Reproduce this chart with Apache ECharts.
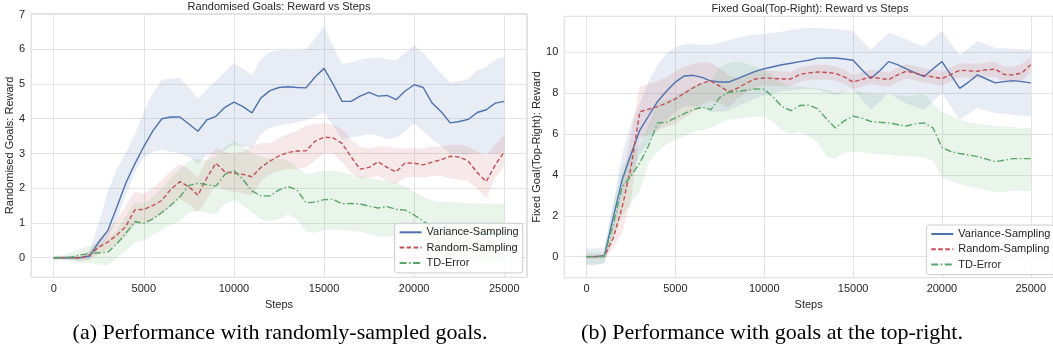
<!DOCTYPE html>
<html>
<head>
<meta charset="utf-8">
<script src="https://cdn.jsdelivr.net/npm/echarts@6/dist/echarts.min.js"></script>
<style>
html,body{margin:0;padding:0;background:#fff;}
#c{width:1053px;height:351px;}
</style>
</head>
<body>
<div id="c"></div>
<script>
// ---------------- data ----------------
const steps = [0,500,1000,1500,2000,2500,3000,3500,4000,4500,5000,5500,6000,6500,7000,7500,8000,8500,9000,9500,10000,10500,11000,11500,12000,12500,13000,13500,14000,14500,15000,15500,16000,16500,17000,17500,18000,18500,19000,19500,20000,20500,21000,21500,22000,22500,23000,23500,24000,24500,25000];

const seriesNames = ['Variance-Sampling', 'Random-Sampling', 'TD-Error'];

// (a) Randomised goals
const leftVarMean = [0,0,0,0,0.05,0.45,0.78,1.45,2.15,2.7,3.2,3.65,4.0,4.05,4.05,3.85,3.64,3.97,4.07,4.33,4.48,4.35,4.17,4.6,4.81,4.9,4.92,4.9,4.89,5.2,5.45,5.0,4.5,4.5,4.65,4.76,4.65,4.67,4.55,4.8,4.98,4.9,4.45,4.2,3.88,3.92,3.98,4.18,4.26,4.45,4.5];
const leftVarLow  = [-0.05,-0.05,-0.05,-0.05,-0.05,0.3,0.55,1.1,1.8,2.45,2.9,3.05,3.1,3.05,3.0,2.9,2.7,2.95,3.0,3.1,3.25,3.2,3.15,3.55,3.74,3.8,3.85,3.9,3.95,4.05,4.19,3.8,3.42,3.45,3.5,3.55,3.52,3.42,3.45,3.65,3.86,3.65,3.4,3.2,3.0,2.98,2.98,3.0,3.0,3.0,3.05];
const leftVarHigh = [0.05,0.05,0.05,0.05,0.2,1.0,1.9,2.55,3.0,3.55,4.2,4.75,5.12,5.15,5.18,4.9,4.58,4.85,5.1,5.35,5.6,5.45,5.26,5.72,5.92,5.97,5.98,5.97,6.0,6.3,6.66,6.1,5.58,5.62,5.7,5.75,5.77,5.72,5.68,5.9,6.11,5.9,5.6,5.3,5.05,5.08,5.15,5.4,5.5,5.7,5.8];

const leftRandMean = [0,0,0,0,0.08,0.3,0.45,0.65,0.9,1.38,1.39,1.5,1.65,1.97,2.19,2.04,1.8,2.3,2.72,2.47,2.43,2.4,2.33,2.6,2.78,2.93,3.03,3.07,3.08,3.35,3.47,3.45,3.29,2.9,2.55,2.6,2.76,2.6,2.47,2.73,2.72,2.67,2.75,2.82,2.92,2.9,2.78,2.45,2.19,2.67,3.05];
const leftRandLow  = [-0.05,-0.05,-0.05,-0.1,-0.05,0.1,0.25,0.4,0.6,0.95,1.0,1.1,1.25,1.5,1.7,1.55,1.3,1.7,2.1,1.95,1.9,1.85,1.8,2.2,2.4,2.5,2.55,2.55,2.6,2.8,3.0,3.0,2.75,2.45,2.3,2.3,2.35,2.2,2.12,2.3,2.33,2.3,2.35,2.35,2.28,2.25,2.2,2.0,1.7,2.3,2.65];
const leftRandHigh = [0.05,0.05,0.05,0.05,0.2,0.55,0.8,1.1,1.5,1.9,1.85,2.0,2.25,2.5,2.7,2.55,2.3,2.85,3.15,3.05,3.0,3.05,3.2,3.3,3.3,3.45,3.55,3.65,3.8,3.85,3.87,3.82,3.7,3.4,3.2,3.15,3.2,3.2,3.15,3.15,3.15,3.15,3.2,3.2,3.25,3.25,3.2,3.05,2.95,3.25,3.55];

const leftTdMean = [0,0,0.02,0.08,0.12,0.14,0.16,0.4,0.7,1.04,0.99,1.12,1.3,1.51,1.75,2.08,2.14,2.1,2.06,2.4,2.51,2.25,1.92,1.78,1.78,1.95,2.05,1.95,1.58,1.6,1.67,1.68,1.55,1.56,1.55,1.48,1.43,1.47,1.39,1.37,1.23,1.05,0.9,0.85,0.8,0.78,0.75,0.72,0.7,0.72,0.7];
const leftTdLow  = [-0.05,-0.05,-0.1,-0.15,-0.15,-0.2,-0.22,0.0,0.2,0.45,0.5,0.65,0.8,0.95,1.05,1.3,1.35,1.3,1.25,1.55,1.65,1.5,1.3,1.1,1.05,1.1,1.25,1.1,0.75,0.72,0.78,0.82,0.8,0.78,0.75,0.68,0.62,0.62,0.6,0.6,0.5,0.35,0.2,0.1,0.0,-0.02,-0.05,-0.1,-0.12,-0.12,-0.15];
const leftTdHigh = [0.05,0.08,0.15,0.25,0.35,0.4,0.55,0.8,1.2,1.6,1.55,1.75,2.0,2.3,2.55,2.8,2.85,2.8,2.9,3.2,3.35,3.2,3.0,2.9,2.85,2.85,2.8,2.6,2.4,2.45,2.5,2.5,2.45,2.4,2.35,2.3,2.25,2.2,2.15,2.05,1.9,1.75,1.65,1.6,1.6,1.58,1.57,1.56,1.56,1.55,1.55];

// (b) Fixed goal at the top-right
const rightVarMean = [0,0,0.05,1.9,3.75,5.0,6.2,6.9,7.6,8.1,8.55,8.85,8.88,8.78,8.6,8.55,8.55,8.72,8.9,9.07,9.2,9.3,9.4,9.47,9.55,9.62,9.72,9.73,9.73,9.68,9.62,9.15,8.72,9.1,9.55,9.4,9.2,9.0,8.82,9.2,9.55,8.9,8.24,8.55,8.9,8.7,8.51,8.57,8.62,8.57,8.51];
const rightVarLow  = [-0.4,-0.4,-0.35,1.2,2.9,3.9,5.0,5.6,6.2,6.7,7.1,7.35,7.35,7.3,7.1,7.1,7.15,7.35,7.55,7.75,7.9,8.0,8.1,8.15,8.18,8.18,8.18,8.05,7.9,8.05,8.18,7.7,7.2,7.6,8.02,7.75,7.5,7.35,7.2,7.6,8.02,7.35,6.71,7.0,7.28,7.15,7.04,7.0,6.95,6.9,6.87];
const rightVarHigh = [0.4,0.4,0.45,2.6,5.0,6.5,7.5,8.6,9.4,9.95,10.25,10.4,10.42,10.38,10.4,10.47,10.6,10.72,10.82,10.87,10.92,10.97,11.02,11.1,11.18,11.2,11.2,11.18,11.15,11.1,11.04,10.6,10.14,10.55,10.96,10.8,10.65,10.45,10.3,10.7,11.04,10.45,9.89,10.2,10.55,10.4,10.22,10.2,10.18,10.16,10.14];

const rightRandMean = [0,0,0.02,0.9,2.4,4.35,7.1,7.22,7.35,7.52,7.72,8.0,8.27,8.5,8.6,8.35,8.08,8.25,8.5,8.7,8.75,8.73,8.7,8.7,8.92,9.0,9.04,9.02,8.98,8.8,8.55,8.68,8.8,8.73,8.67,8.9,9.08,8.98,8.88,8.8,8.72,8.93,9.13,9.1,9.08,9.15,9.18,8.92,8.9,9.0,9.4];
const rightRandLow  = [-0.1,-0.1,-0.1,0.4,1.2,2.8,5.8,6.0,6.2,6.35,6.5,6.8,7.1,7.45,7.65,7.5,7.3,7.75,8.05,8.3,8.38,8.36,8.35,8.35,8.57,8.65,8.68,8.66,8.63,8.45,8.2,8.33,8.45,8.38,8.32,8.55,8.73,8.63,8.53,8.45,8.37,8.58,8.78,8.75,8.72,8.78,8.8,8.55,8.5,8.6,9.0];
const rightRandHigh = [0.1,0.1,0.1,1.5,3.6,6.0,8.35,8.45,8.6,8.8,9.05,9.3,9.45,9.52,9.5,9.2,8.85,8.75,8.95,9.1,9.12,9.1,9.05,9.05,9.27,9.35,9.4,9.38,9.33,9.15,8.9,9.03,9.15,9.08,9.02,9.25,9.43,9.33,9.23,9.15,9.07,9.28,9.48,9.45,9.45,9.52,9.55,9.3,9.3,9.45,9.8];

const rightTdMean = [0,0,0.02,1.6,3.4,3.95,4.6,5.45,6.55,6.58,6.8,7.0,7.2,7.32,7.2,7.8,8.05,8.1,8.15,8.21,8.2,7.82,7.35,7.15,7.4,7.42,7.25,6.75,6.3,6.65,6.88,6.78,6.62,6.58,6.55,6.47,6.4,6.5,6.55,6.3,5.35,5.15,5.05,4.98,4.9,4.78,4.65,4.72,4.8,4.8,4.8];
const rightTdLow  = [-0.4,-0.4,-0.3,0.9,2.0,2.6,3.2,4.6,5.15,5.5,5.7,5.9,6.1,6.2,6.3,6.55,6.7,6.75,6.8,6.85,6.85,6.6,6.2,6.0,6.1,5.9,5.6,4.9,4.8,5.1,5.15,5.1,5.05,5.0,5.0,4.95,4.9,4.9,4.85,4.7,3.9,3.7,3.55,3.45,3.35,3.25,3.15,3.18,3.22,3.22,3.22];
const rightTdHigh = [0.2,0.2,0.2,2.5,4.4,5.0,5.5,6.5,7.6,7.7,7.85,8.1,8.35,8.5,8.6,9.3,9.5,9.55,9.45,9.3,9.15,8.85,8.5,8.3,8.35,8.3,8.25,8.2,8.0,8.1,8.15,8.05,7.95,7.95,7.95,7.9,7.85,7.9,7.95,7.5,7.1,6.9,6.7,6.6,6.5,6.45,6.4,6.35,6.35,6.3,6.3];

// ---------------- styling ----------------
const COLORS = ['#4C72B0', '#C44E52', '#55A868'];
const DASHES = ['solid', [4.5, 2.5], [7, 2.5, 1.5, 2.5]];
const FONT = '"Liberation Sans", Arial, sans-serif';
const TXT = '#262626';

function bandSeries(idx, low, high, color) {
  const rows = steps.map((s, i) => [s, low[i], high[i]]);
  return {
    type: 'custom', xAxisIndex: idx, yAxisIndex: idx, silent: true, z: 1,
    data: rows,
    encode: { x: 0, y: [1, 2] },
    renderItem: function (params, api) {
      if (params.dataIndex !== 0) return null;
      const pts = [];
      for (let i = 0; i < rows.length; i++) pts.push(api.coord([rows[i][0], rows[i][2]]));
      for (let i = rows.length - 1; i >= 0; i--) pts.push(api.coord([rows[i][0], rows[i][1]]));
      return { type: 'polygon', shape: { points: pts }, style: { fill: color, opacity: 0.13 } };
    }
  };
}
function lineSeries(idx, k, mean) {
  return {
    name: seriesNames[k], type: 'line', xAxisIndex: idx, yAxisIndex: idx, z: 3,
    symbol: 'none', showSymbol: false,
    data: steps.map((s, i) => [s, mean[i]]),
    lineStyle: { color: COLORS[k], width: 1.4, type: DASHES[k] },
    itemStyle: { color: COLORS[k] }
  };
}

function xAxis(idx) {
  return {
    type: 'value', gridIndex: idx, min: -1250, max: 26250,
    name: 'Steps', nameLocation: 'middle', nameGap: 16,
    nameTextStyle: { fontFamily: FONT, fontSize: 11, color: TXT },
    axisLine: { show: false }, axisTick: { show: false },
    axisLabel: { fontFamily: FONT, fontSize: 11, color: TXT, margin: 6, showMinLabel: false, showMaxLabel: false, formatter: v => String(v) },
    splitLine: { show: true, lineStyle: { color: '#e3e3e3', width: 1 } }
  };
}
function yAxis(idx, min, max, split, name, gap) {
  return {
    type: 'value', gridIndex: idx, min: min, max: max, splitNumber: split,
    name: name, nameLocation: 'middle', nameGap: gap,
    nameTextStyle: { fontFamily: FONT, fontSize: 11, color: TXT },
    axisLine: { show: false }, axisTick: { show: false },
    axisLabel: { fontFamily: FONT, fontSize: 11, color: TXT, margin: 6, showMinLabel: false, showMaxLabel: false, formatter: v => String(v) },
    splitLine: { show: true, lineStyle: { color: '#e3e3e3', width: 1 } }
  };
}
function legend(left, top) {
  return {
    orient: 'vertical', left: left, top: top, data: seriesNames,
    itemWidth: 22, itemHeight: 10, itemGap: 3.3, padding: [3, 4, 4, 4],
    backgroundColor: 'rgba(255,255,255,0.8)', borderColor: '#cccccc', borderWidth: 1, borderRadius: 3,
    selectedMode: false,
    itemStyle: { opacity: 0, borderWidth: 0 },
    textStyle: { fontFamily: FONT, fontSize: 11, color: TXT, lineHeight: 12 }
  };
}
function text(x, y, str, font, color) {
  return { type: 'text', x: x, y: y, silent: true,
    style: { text: str, font: font, fill: color, textAlign: 'center', textVerticalAlign: 'middle', align: 'center', verticalAlign: 'middle' } };
}

const option = {
  animation: false,
  backgroundColor: '#ffffff',
  grid: [
    { left: 31.2, top: 13.5, width: 495.6, height: 263.8, show: true, borderColor: '#d6d6d6', borderWidth: 1, backgroundColor: 'transparent' },
    { left: 564.3, top: 16.3, width: 491.7, height: 261.4, show: true, borderColor: '#d6d6d6', borderWidth: 1, backgroundColor: 'transparent' }
  ],
  xAxis: [xAxis(0), xAxis(1)],
  yAxis: [
    yAxis(0, -0.565, 7.03, 8, 'Randomised Goals: Reward', 14.5),
    yAxis(1, -1.03, 11.77, 6, 'Fixed Goal(Top-Right): Reward', 19.5)
  ],
  legend: [legend(394.6, 223.3), legend(926.3, 225)],
  series: [
    bandSeries(0, leftVarLow, leftVarHigh, COLORS[0]),
    bandSeries(0, leftRandLow, leftRandHigh, COLORS[1]),
    bandSeries(0, leftTdLow, leftTdHigh, COLORS[2]),
    lineSeries(0, 0, leftVarMean),
    lineSeries(0, 1, leftRandMean),
    lineSeries(0, 2, leftTdMean),
    bandSeries(1, rightVarLow, rightVarHigh, COLORS[0]),
    bandSeries(1, rightRandLow, rightRandHigh, COLORS[1]),
    bandSeries(1, rightTdLow, rightTdHigh, COLORS[2]),
    lineSeries(1, 0, rightVarMean),
    lineSeries(1, 1, rightRandMean),
    lineSeries(1, 2, rightTdMean)
  ],
  graphic: [
    text(279, 6.5, 'Randomised Goals: Reward vs Steps', '11px ' + FONT, TXT),
    text(810, 9, 'Fixed Goal(Top-Right): Reward vs Steps', '11px ' + FONT, TXT),
    text(280, 333, '(a) Performance with randomly-sampled goals.', '22px "Liberation Serif", "Times New Roman", serif', '#000000'),
    text(772, 333, '(b) Performance with goals at the top-right.', '22px "Liberation Serif", "Times New Roman", serif', '#000000')
  ]
};

const chart = echarts.init(document.getElementById('c'), null, { renderer: 'canvas' });
chart.setOption(option);
</script>
</body>
</html>
